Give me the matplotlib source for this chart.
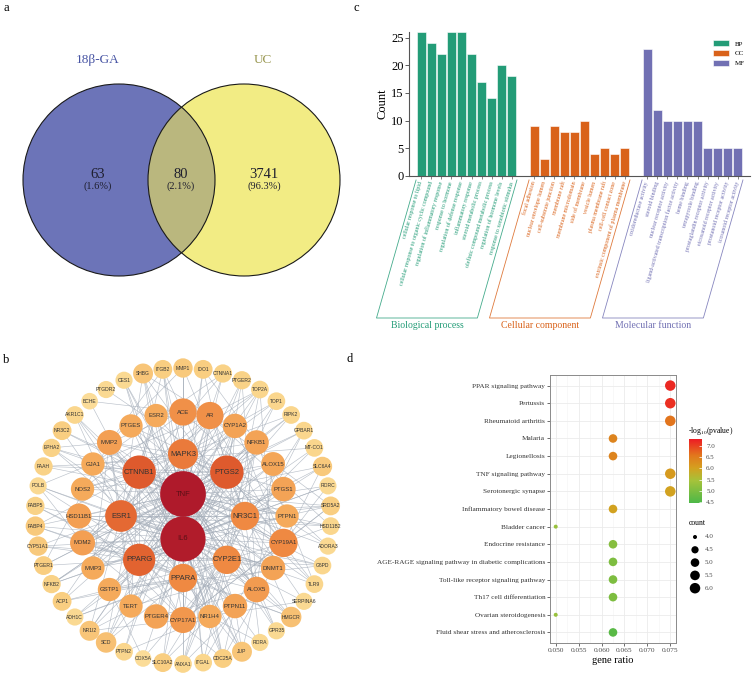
import numpy as np
import matplotlib
matplotlib.use("Agg")
from matplotlib import pyplot as plt
from matplotlib.patches import Circle, Patch
from matplotlib.collections import LineCollection
from matplotlib.colors import LinearSegmentedColormap, Normalize

plt.rcParams["font.family"] = ["Liberation Serif", "DejaVu Serif"]
plt.rcParams["mathtext.fontset"] = "stix"

W, H = 753, 681

# ---------------- data ----------------
# a: venn
venn_sets = ["18β-GA", "UC"]
venn_counts = [63, 80, 3741]  # 18β-GA only, shared, UC only

# c: GO enrichment
bp_terms = ["cellular response to lipid", "cellular response to organic cyclic compound",
            "regulation of inflammatory response", "response to hormone",
            "regulation of defense response", "inflammatory response",
            "steroid metabolic process", "olefinic compound metabolic process",
            "regulation of hormone levels", "response to xenobiotic stimulus"]
bp_counts = [26, 24, 22, 26, 26, 22, 17, 14, 20, 18]
cc_terms = ["focal adhesion", "nuclear envelope lumen", "cell-substrate junction",
            "membrane raft", "membrane microdomain", "side of membrane", "vesicle lumen",
            "plasma membrane raft", "cell-cell contact zone",
            "extrinsic component of plasma membrane"]
cc_counts = [9, 3, 9, 8, 8, 10, 4, 5, 4, 5]
mf_terms = ["oxidoreductase activity", "steroid binding", "nuclear receptor activity",
            "ligand-activated transcription factor activity", "heme binding",
            "tetrapyrrole binding", "prostaglandin receptor activity",
            "eicosanoid receptor activity", "prostanoid receptor activity",
            "icosanoid receptor activity"]
mf_counts = [23, 12, 10, 10, 10, 10, 5, 5, 5, 5]
go_groups = ["BP", "CC", "MF"]
go_names = ["Biological process", "Cellular component", "Molecular function"]
go_colors = ["#239C77", "#D9621A", "#7170B3"]

# d: KEGG enrichment
kegg_terms = ["PPAR signaling pathway", "Pertussis", "Rheumatoid arthritis", "Malaria",
              "Legionellosis", "TNF signaling pathway", "Serotonergic synapse",
              "Inflammatory bowel disease", "Bladder cancer", "Endocrine resistance",
              "AGE-RAGE signaling pathway in diabetic complications",
              "Toll-like receptor signaling pathway", "Th17 cell differentiation",
              "Ovarian steroidogenesis", "Fluid shear stress and atherosclerosis"]
kegg_count = [6, 6, 6, 5, 5, 6, 6, 5, 4, 5, 5, 5, 5, 4, 5]
kegg_logp = [7.2, 7.15, 6.6, 6.4, 6.4, 6.1, 6.0, 6.0, 5.3, 5.1, 5.0, 5.0, 5.0, 5.3, 4.6]
gene_total = 80
count_levels = [4.0, 4.5, 5.0, 5.5, 6.0]

# b: PPI network (rings from centre outwards, clockwise from top)
ring1 = ["TNF", "IL6"]
ring1_deg = [62, 61]
ring2 = "MAPK3 PTGS2 NR3C1 CYP2E1 PPARA PPARG ESR1 CTNNB1".split()
ring2_deg = [34, 40, 31, 31, 31, 38, 37, 40]
ring3 = ("ACE AR CYP1A2 NFKB1 ALOX15 PTGS1 PTPN1 CYP19A1 DNMT1 ALOX5 PTPN11 NR1H4 "
         "CYP17A1 PTGER4 TERT GSTP1 MMP3 MDM2 HSD11B1 NOS2 GJA1 MMP2 PTGES ESR2").split()
ring3_deg = [29, 29, 24, 24, 23, 24, 22, 31, 24, 26, 24, 22, 27, 24, 22, 22, 22, 25, 25, 22,
             22, 25, 22, 22]
ring4 = ("MMP1 IDO1 CTNNA1 PTGER2 TOP2A TOP1 RIPK2 GPBAR1 MT-CO1 SLC6A4 RORC SRD5A2 "
         "HSD11B2 ADORA3 G6PD TLR9 SERPINA6 HMGCR GPR35 RORA JUP CDC25A ITGAL ANXA1 "
         "SLC10A2 COX5A PTPN2 SCD NR1I2 ADH1C ACP1 NFKB2 PTGER1 CYP51A1 FABP4 FABP5 POLB "
         "FAAH EPHA2 NR3C2 AKR1C1 BCHE PTGDR2 CES1 SHBG ITGB2").split()
ring4_deg = [15, 14, 13, 13, 12, 12, 12, 12, 12, 15, 11, 14, 12, 11, 12, 12, 11, 17, 11, 11,
             16, 14, 12, 12, 14, 10, 12, 17, 16, 11, 14, 13, 14, 15, 15, 13, 11, 13, 13, 14,
             12, 10, 11, 11, 16, 14]
links = {
    "TNF": "IL6 MAPK3 PTGS2 NR3C1 CYP2E1 PPARA PPARG ESR1 CTNNB1 ACE AR CYP1A2 NFKB1 ALOX15 "
           "PTGS1 PTPN1 CYP19A1 DNMT1 ALOX5 PTPN11 NR1H4 CYP17A1 PTGER4 TERT GSTP1 MMP3 MDM2 "
           "HSD11B1 NOS2 GJA1 MMP2 PTGES ESR2 MMP1 IDO1 CTNNA1 PTGER2 TOP2A RIPK2 GPBAR1 "
           "SLC6A4 SRD5A2 HSD11B2 ADORA3 G6PD TLR9 HMGCR GPR35 JUP CDC25A ITGAL ANXA1 SLC10A2 "
           "PTPN2 SCD NR1I2 ACP1 NFKB2 PTGER1 FABP4 FAAH EPHA2 NR3C2 SHBG ITGB2 CES1",
    "IL6": "MAPK3 PTGS2 NR3C1 CYP2E1 PPARA PPARG ESR1 CTNNB1 ACE AR CYP1A2 NFKB1 ALOX15 PTGS1 "
           "PTPN1 CYP19A1 DNMT1 ALOX5 PTPN11 NR1H4 CYP17A1 PTGER4 TERT GSTP1 MMP3 MDM2 HSD11B1 "
           "NOS2 GJA1 MMP2 PTGES ESR2 MMP1 IDO1 CTNNA1 PTGER2 TOP2A TOP1 RIPK2 MT-CO1 SLC6A4 "
           "RORC SRD5A2 G6PD TLR9 SERPINA6 HMGCR RORA JUP CDC25A ANXA1 COX5A SCD NR1I2 ADH1C "
           "NFKB2 CYP51A1 FABP4 FABP5 POLB EPHA2 AKR1C1 SHBG ITGB2",
    "CTNNB1": "PTGS2 ESR1 PPARG MAPK3 AR ESR2 MMP2 MMP3 MDM2 TERT CTNNA1 JUP CDC25A EPHA2 GJA1 "
              "NOS2 PTPN1 PTPN11 NR3C1 CYP19A1 DNMT1 TOP2A ITGB2 SCD FABP4",
    "PTGS2": "MAPK3 ESR1 PPARG PPARA NR3C1 PTGS1 PTGES PTGER2 PTGER4 PTGER1 PTGDR2 ALOX5 ALOX15 "
             "NOS2 NFKB1 MMP1 MMP2 CYP1A2 CYP19A1 HMGCR ANXA1 FAAH NFKB2 IDO1 TLR9",
    "ESR1": "ESR2 AR NR3C1 PPARG PPARA CYP19A1 CYP17A1 CYP1A2 SHBG MDM2 TERT DNMT1 HSD11B1 "
            "HSD11B2 SRD5A2 NR3C2 MMP2 CYP51A1 GPBAR1 RORC NR1I2 ACP1 G6PD",
    "PPARG": "PPARA NR3C1 NR1H4 FABP4 FABP5 SCD HMGCR ALOX15 ALOX5 PTGS1 CYP2E1 CYP17A1 NFKB1 "
             "MDM2 MMP3 GSTP1 ACE PTPN1 NR1I2 CYP51A1 AKR1C1 PTGER1 ADH1C",
    "MAPK3": "NFKB1 PTPN1 PTPN11 PTPN2 MDM2 MMP1 MMP2 MMP3 GJA1 NOS2 RIPK2 TLR9 ITGAL ITGB2 ACE "
             "AR TOP1 CDC25A TERT GPR35 ADORA3",
    "PPARA": "NR3C1 CYP2E1 CYP17A1 NR1H4 HMGCR FABP4 FABP5 SCD ACE CYP1A2 GSTP1 SLC10A2 ADH1C "
             "ACP1 CES1 BCHE AKR1C1 POLB",
    "NR3C1": "NR3C2 AR ESR2 HSD11B1 HSD11B2 SERPINA6 SHBG CYP17A1 CYP19A1 SRD5A2 ANXA1 NFKB1 "
             "NFKB2 RORA RORC MT-CO1 SLC6A4 PTGES",
    "CYP2E1": "CYP1A2 CYP17A1 CYP19A1 CYP51A1 ADH1C GSTP1 NR1I2 NR1H4 G6PD HMGCR AKR1C1 SLC10A2 "
              "TOP2A COX5A DNMT1 CES1 ALOX5",
    "ACE": "AR ESR2 NOS2 MMP2 ADORA3 GPR35 ITGB2 BCHE",
    "AR": "ESR2 CYP19A1 CYP17A1 SRD5A2 HSD11B2 SHBG TOP2A POLB",
    "CYP19A1": "CYP17A1 CYP1A2 SRD5A2 HSD11B2 SLC6A4 RORC",
    "NFKB1": "NFKB2 RIPK2 TLR9 IDO1 ITGAL TOP1 ANXA1",
    "ALOX5": "ALOX15 PTGES PTGER4 PTGER2 ANXA1 JUP",
    "MMP2": "MMP3 MMP1 EPHA2 ITGB2 PTGER1 TERT",
    "CYP17A1": "HSD11B1 SRD5A2 SERPINA6 SHBG GPBAR1",
    "PTPN11": "PTPN1 PTPN2 EPHA2 CDC25A JUP ITGAL",
    "GJA1": "CTNNA1 JUP MT-CO1 FAAH",
    "DNMT1": "TERT TOP2A POLB MDM2 CDC25A",
    "NR1H4": "GPBAR1 SLC10A2 RORA CES1 NR1I2",
    "MDM2": "TOP1 TOP2A CDC25A POLB",
    "GSTP1": "ACP1 G6PD COX5A",
}

# ---------------- figure ----------------
fig = plt.figure(figsize=(W / 100, H / 100), dpi=100)


def box(l, t, w, h):
    return [l / W, 1 - (t + h) / H, w / W, h / H]


over = fig.add_axes([0, 0, 1, 1], zorder=5)
over.set_xlim(0, W)
over.set_ylim(H, 0)
over.axis("off")
for lab, (x, y) in zip("abcd", [(4, 8), (3, 360), (354, 8), (347, 359)]):
    over.text(x, y, lab, fontsize=9, ha="left", va="center")

# ---- a: venn ----
axa = fig.add_axes(box(0, 0, 360, 330))
axa.set_xlim(0, 360)
axa.set_ylim(330, 0)
axa.axis("off")
cl, cr, rr = (119, 180), (244, 180), 96
axa.add_patch(Circle(cr, rr, fc="#F2EC84", ec="none"))
left = Circle(cl, rr, fc="#6C74B8", ec="none")
axa.add_patch(left)
lens = Circle(cr, rr, fc="#BAB77E", ec="none")
axa.add_patch(lens)
lens.set_clip_path(left)
for c in (cl, cr):
    axa.add_patch(Circle(c, rr, fill=False, ec="#1a1a1a", lw=0.8))
total = sum(venn_counts)
for x, n in zip([98, 181, 264], venn_counts):
    axa.text(x, 174, str(n), ha="center", va="center", fontsize=10.5, color="#1e1e2e")
    axa.text(x, 186, "(%.1f%%)" % (n / total * 100), ha="center", va="center",
             fontsize=7.5, color="#1e1e2e")
axa.text(98, 60, venn_sets[0], ha="center", va="center", fontsize=9.5, color="#4653A3")
axa.text(263, 60, venn_sets[1], ha="center", va="center", fontsize=9.5, color="#9A9852")

# ---- c: GO bars ----
axc = fig.add_axes(box(409, 32, 341, 144))
c_xmin, c_xmax = -1.2, 32.6
all_pos, all_terms, all_cols = [], [], []
for g, (terms, counts, col, name) in enumerate(zip([bp_terms, cc_terms, mf_terms],
                                                   [bp_counts, cc_counts, mf_counts],
                                                   go_colors, go_groups)):
    pos = g * (len(terms) + 1.2) + np.arange(len(terms))
    axc.bar(pos, counts, width=0.9, color=col, edgecolor="white", linewidth=0.4, label=name)
    all_pos += list(pos)
    all_terms += terms
    all_cols += [col] * len(terms)
    # slanted box under the group
    shift = 138 / np.tan(np.radians(74))
    xl = 409 + (pos[0] - 0.5 - c_xmin) / (c_xmax - c_xmin) * 341
    xr = 409 + (pos[-1] + 0.5 - c_xmin) / (c_xmax - c_xmin) * 341
    over.plot([xl, xl - shift, xr - shift, xr], [180, 318, 318, 180], color=col, lw=0.6,
              alpha=0.85)
    over.text((xl + xr) / 2 - shift, 326, go_names[g], ha="center", va="center",
              fontsize=7, color=col)
axc.set_xlim(c_xmin, c_xmax)
axc.set_ylim(0, 26)
axc.set_yticks([0, 5, 10, 15, 20, 25])
axc.set_xticks(all_pos)
axc.set_xticklabels(all_terms, rotation=74, ha="right", va="center", rotation_mode="anchor",
                    fontsize=4.2)
for t, col in zip(axc.get_xticklabels(), all_cols):
    t.set_color(col)
axc.tick_params(axis="x", length=2, width=0.5, pad=2, color="#555555")
axc.tick_params(axis="y", length=3, width=0.6, pad=1, labelsize=9, color="#444444")
axc.set_ylabel("Count", fontsize=9, labelpad=2)
for s in ("top", "right"):
    axc.spines[s].set_visible(False)
for s in ("left", "bottom"):
    axc.spines[s].set_color("#555555")
    axc.spines[s].set_linewidth(0.8)
axc.legend(loc="upper left", bbox_to_anchor=(710 / W, 1 - 37 / H), bbox_transform=fig.transFigure,
           frameon=False, fontsize=5, handlelength=2.2, handleheight=0.8, borderpad=0,
           labelspacing=0.55, handletextpad=0.9)

# ---- b: network ----
axb = fig.add_axes(box(0, 345, 365, 336))
axb.set_xlim(-183, 182)
axb.set_ylim(-165, 171)
axb.set_aspect("equal")
axb.axis("off")
pos_b, deg_b, fsize = {}, {}, {}
for name, d, yy in zip(ring1, ring1_deg, [22, -23]):
    pos_b[name] = (0, yy)
    deg_b[name] = d
    fsize[name] = 5.5
for ring, degs, rad, fs in [(ring2, ring2_deg, 62, 5.5), (ring3, ring3_deg, 104, 4.3),
                            (ring4, ring4_deg, 148, 3.6)]:
    ang = np.radians(90 - np.arange(len(ring)) * 360 / len(ring))
    for name, d, a in zip(ring, degs, ang):
        pos_b[name] = (rad * np.cos(a), rad * np.sin(a))
        deg_b[name] = d
        fsize[name] = fs
segs = []
for a, targets in links.items():
    for b in targets.split():
        if a in pos_b and b in pos_b:
            segs.append([pos_b[a], pos_b[b]])
axb.add_collection(LineCollection(segs, colors="#A3ACB8", linewidths=0.45, alpha=0.75, zorder=1))
node_cmap = LinearSegmentedColormap.from_list(
    "deg", [(0, "#FCE3A3"), (0.1, "#F9D084"), (0.25, "#F5AC5C"), (0.45, "#EE843F"),
            (0.58, "#DF5C2D"), (1, "#AF1A2B")])
node_norm = Normalize(8, 62)
for name, (x, y) in pos_b.items():
    d = deg_b[name]
    axb.add_patch(Circle((x, y), 5.5 + 0.28 * d, fc=node_cmap(node_norm(d)), ec="none",
                         zorder=2))
    tc = "#5A1016" if d > 50 else "#333333"
    axb.text(x, y, name, ha="center", va="center", fontsize=fsize[name], color=tc, zorder=3,
             family=["Liberation Sans", "DejaVu Sans"])

# ---- d: KEGG dot plot ----
axd = fig.add_axes(box(550, 375, 126, 268))
n = len(kegg_terms)
yk = np.arange(n)[::-1]
ratio = np.array(kegg_count) / gene_total


def dot_size(c):
    d_px = 4 + 6.5 * np.sqrt((np.asarray(c, dtype=float) - 4) / 2)
    return (d_px * 0.72) ** 2


kegg_cmap = LinearSegmentedColormap.from_list(
    "kegg", [(0, "#4CB848"), (0.35, "#A5C23A"), (0.55, "#D4A01F"), (0.75, "#E2761D"),
             (1, "#ED1C24")])
kegg_norm = Normalize(4.45, 7.31)
sc = axd.scatter(ratio, yk, s=dot_size(kegg_count), c=kegg_logp, cmap=kegg_cmap, norm=kegg_norm,
                 edgecolors="none", zorder=3)
axd.set_xlim(0.04875, 0.07625)
axd.set_ylim(-0.6, n - 0.4)
axd.set_xticks(np.arange(0.050, 0.0751, 0.005))
axd.set_xticklabels(["%.3f" % v for v in np.arange(0.050, 0.0751, 0.005)])
axd.set_xticks(np.arange(0.0525, 0.075, 0.005), minor=True)
axd.set_yticks(yk)
axd.set_yticklabels(kegg_terms)
axd.grid(which="major", color="#EBEBEB", lw=0.6, zorder=0)
axd.grid(which="minor", axis="x", color="#F3F3F3", lw=0.4, zorder=0)
axd.set_axisbelow(True)
axd.tick_params(which="major", length=2, width=0.5, pad=1.5, labelsize=5.2, color="#333333",
                labelcolor="#333333")
axd.tick_params(axis="x", labelsize=5.3, labelcolor="#4D4D4D")
axd.tick_params(which="minor", length=0)
for s in axd.spines.values():
    s.set_color("#8A8A8A")
    s.set_linewidth(0.7)
axd.set_xlabel("gene ratio", fontsize=7.5, labelpad=2)

cax = fig.add_axes(box(689, 439, 13, 64))
cb = fig.colorbar(sc, cax=cax)
cb.outline.set_visible(False)
cb.set_ticks([4.5, 5.0, 5.5, 6.0, 6.5, 7.0])
cb.ax.tick_params(length=2, width=0.5, color="white", direction="in", pad=3, labelsize=5,
                  labelcolor="#4D4D4D")
over.text(688, 431, r"-log$_{10}$(pvalue)", ha="left", va="center", fontsize=5.5)

over.text(689, 523, "count", ha="left", va="center", fontsize=5.5)
for i, c in enumerate(count_levels):
    yy = 537 + i * 12.8
    over.scatter([695], [yy], s=dot_size(c), color="black", edgecolors="none")
    over.text(705, yy, "%.1f" % c, ha="left", va="center", fontsize=5, color="#4D4D4D")

fig.savefig("out.png", dpi=100)
